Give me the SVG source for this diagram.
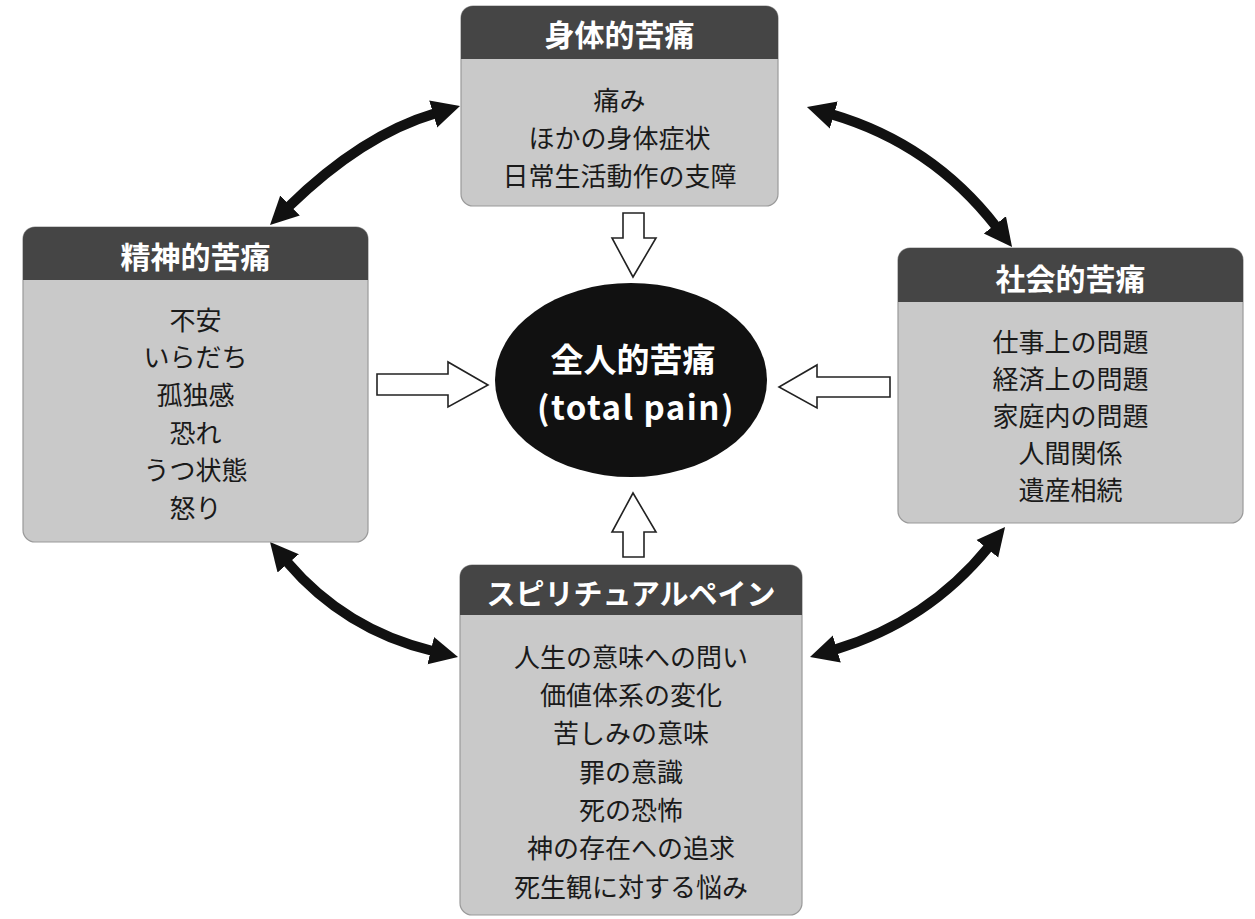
<svg xmlns="http://www.w3.org/2000/svg" width="1255" height="919" viewBox="0 0 1255 919">
<style>
.body{fill:#c9c9c9;stroke:#9a9a9a;stroke-width:1.2}
.head{fill:#454545}
.title{font-family:"Noto Sans CJK JP","Noto Sans",sans-serif;font-weight:bold;font-size:30px;fill:#ffffff;text-anchor:middle;dominant-baseline:central}
.item{font-family:"Noto Sans CJK JP","Noto Sans",sans-serif;font-size:26px;fill:#1a1a1a;text-anchor:middle;dominant-baseline:central}
.curve{fill:none;stroke:#111;stroke-width:10}
.hollow{fill:#ffffff;stroke:#222;stroke-width:1.6;stroke-linejoin:miter}
.center{font-family:"Noto Sans CJK JP","Noto Sans",sans-serif;font-weight:bold;fill:#ffffff;text-anchor:middle;dominant-baseline:central}
</style>
<defs>
<marker id="ah" markerUnits="userSpaceOnUse" viewBox="0 -15 30 30" refX="2" refY="0" markerWidth="30" markerHeight="30" orient="auto-start-reverse">
<polygon points="0,-14 28,0 0,14" fill="#111"/>
</marker>
</defs>
<rect width="1255" height="919" fill="#ffffff"/>

<g id="connectors">
<path class="curve" d="M435.1,113.4 Q362,135 288.6,206.8" marker-start="url(#ah)" marker-end="url(#ah)"/>
<path class="curve" d="M831.9,114.4 Q932,144 996.1,226.5" marker-start="url(#ah)" marker-end="url(#ah)"/>
<path class="curve" d="M286.9,561.8 Q345,630 432.7,651" marker-start="url(#ah)" marker-end="url(#ah)"/>
<path class="curve" d="M988.6,547.2 Q927.5,622 834.9,649.6" marker-start="url(#ah)" marker-end="url(#ah)"/>
<polygon class="hollow" points="623,213 644,213 644,238 656,238 633,277 612,238 623,238"/>
<polygon class="hollow" points="377,374 448,374 448,362 488,385 448,407 448,395 377,395"/>
<polygon class="hollow" points="890,377 817,377 817,365 779,387 817,408 817,397 890,397"/>
<polygon class="hollow" points="623,557 644,557 644,532 656,532 633,493 612,532 623,532"/>
</g>

<g id="physical">
<rect class="body" x="461" y="6" width="317" height="200" rx="12"/>
<path class="head" d="M461,59 V18 A12,12 0 0 1 473,6 H766 A12,12 0 0 1 778,18 V59 Z"/>
<text class="title" x="619.5" y="33">身体的苦痛</text>
<text class="item" x="619.5" y="98">痛み</text>
<text class="item" x="619.5" y="136">ほかの身体症状</text>
<text class="item" x="619.5" y="174">日常生活動作の支障</text>
</g>

<g id="mental">
<rect class="body" x="23" y="227" width="345" height="315" rx="12"/>
<path class="head" d="M23,280 V239 A12,12 0 0 1 35,227 H356 A12,12 0 0 1 368,239 V280 Z"/>
<text class="title" x="195.5" y="255">精神的苦痛</text>
<text class="item" x="195.5" y="318">不安</text>
<text class="item" x="195.5" y="355">いらだち</text>
<text class="item" x="195.5" y="393">孤独感</text>
<text class="item" x="195.5" y="431">恐れ</text>
<text class="item" x="195.5" y="468">うつ状態</text>
<text class="item" x="195.5" y="506">怒り</text>
</g>

<g id="social">
<rect class="body" x="898" y="248" width="345" height="275" rx="12"/>
<path class="head" d="M898,302 V260 A12,12 0 0 1 910,248 H1231 A12,12 0 0 1 1243,260 V302 Z"/>
<text class="title" x="1070.5" y="277">社会的苦痛</text>
<text class="item" x="1070.5" y="340">仕事上の問題</text>
<text class="item" x="1070.5" y="377">経済上の問題</text>
<text class="item" x="1070.5" y="414">家庭内の問題</text>
<text class="item" x="1070.5" y="451">人間関係</text>
<text class="item" x="1070.5" y="488">遺産相続</text>
</g>

<g id="spiritual">
<rect class="body" x="460" y="565" width="342" height="350" rx="12"/>
<path class="head" d="M460,615 V577 A12,12 0 0 1 472,565 H790 A12,12 0 0 1 802,577 V615 Z"/>
<text class="title" x="631" y="592" style="font-size:29px">スピリチュアルペイン</text>
<text class="item" x="631" y="655">人生の意味への問い</text>
<text class="item" x="631" y="693">価値体系の変化</text>
<text class="item" x="631" y="731">苦しみの意味</text>
<text class="item" x="631" y="770">罪の意識</text>
<text class="item" x="631" y="808">死の恐怖</text>
<text class="item" x="631" y="846">神の存在への追求</text>
<text class="item" x="631" y="885">死生観に対する悩み</text>
</g>

<g id="total">
<ellipse cx="631" cy="380" rx="136" ry="97" fill="#111111"/>
<text class="center" x="633" y="358" style="font-size:33px">全人的苦痛</text>
<text class="center" x="636" y="406" style="font-size:33px;letter-spacing:1.5px">(total pain)</text>
</g>
</svg>
